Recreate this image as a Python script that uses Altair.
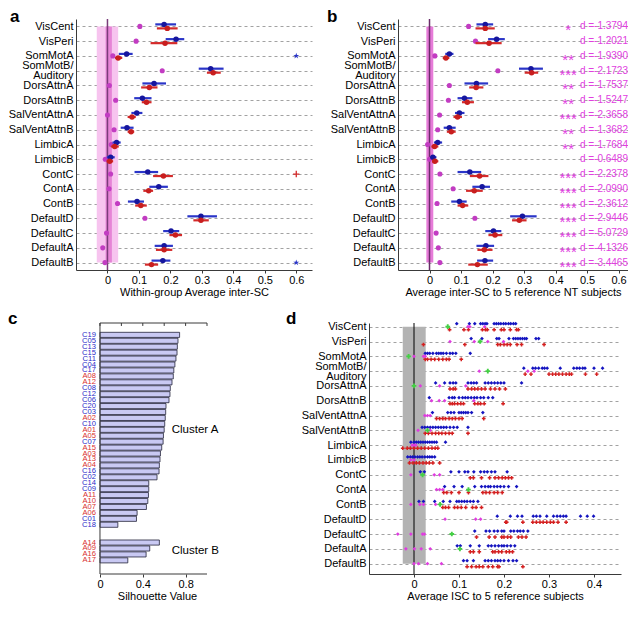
import altair as alt
import pandas as pd

FONT = "Liberation Sans"

ROWS = ["VisCent", "VisPeri", "SomMotA", "SomMotB/Auditory", "DorsAttnA", "DorsAttnB",
        "SalVentAttnA", "SalVentAttnB", "LimbicA", "LimbicB", "ContC", "ContA", "ContB",
        "DefaultD", "DefaultC", "DefaultA", "DefaultB"]

# ---- panel a ----
A_MAG = [0.103, 0.091, 0.017, 0.174, 0.006, 0.026, 0.0, 0.021, 0.012, -0.007, 0.01, 0.005, 0.032, 0.119, -0.003, -0.015, -0.008]
A_BLUE = [0.18, 0.218, 0.061, 0.328, 0.148, 0.111, 0.093, 0.062, 0.029, 0.01, 0.128, 0.163, 0.094, 0.297, 0.202, 0.18, 0.176]
A_BLUE_LO = [0.152, 0.185, 0.036, 0.29, 0.111, 0.085, 0.076, 0.042, 0.016, -0.002, 0.086, 0.133, 0.065, 0.254, 0.177, 0.15, 0.14]
A_BLUE_HI = [0.218, 0.244, 0.08, 0.369, 0.186, 0.14, 0.111, 0.083, 0.042, 0.023, 0.161, 0.192, 0.116, 0.348, 0.228, 0.208, 0.2]
A_RED = [0.19, 0.183, 0.034, 0.336, 0.133, 0.124, 0.078, 0.075, 0.023, 0.007, 0.178, 0.131, 0.106, 0.297, 0.216, 0.18, 0.14]
A_RED_LO = [0.157, 0.137, 0.024, 0.316, 0.107, 0.109, 0.064, 0.064, 0.011, -0.003, 0.145, 0.114, 0.088, 0.273, 0.197, 0.154, 0.119]
A_RED_HI = [0.223, 0.222, 0.047, 0.36, 0.159, 0.14, 0.09, 0.085, 0.036, 0.018, 0.208, 0.145, 0.125, 0.322, 0.237, 0.206, 0.161]
A_BLUE_OUT_ROWS = ["SomMotA", "DefaultB"]
A_RED_OUT_ROWS = ["ContC"]
A_OUT_VALUE = 0.6
A_NULL_WIDE = [-0.034, 0.034]
A_NULL_CORE = [-0.006, 0.014]

# ---- panel b ----
B_MAG = [0.124, 0.146, 0.017, 0.217, 0.063, 0.06, 0.032, 0.026, -0.006, 0.0, 0.033, 0.075, 0.024, 0.144, 0.021, 0.028, 0.033]
B_BLUE = [0.177, 0.213, 0.063, 0.322, 0.149, 0.111, 0.095, 0.063, 0.026, 0.011, 0.128, 0.167, 0.095, 0.295, 0.203, 0.179, 0.176]
B_BLUE_LO = [0.149, 0.186, 0.05, 0.284, 0.111, 0.089, 0.081, 0.045, 0.014, 0.002, 0.089, 0.136, 0.069, 0.256, 0.177, 0.149, 0.151]
B_BLUE_HI = [0.202, 0.239, 0.076, 0.36, 0.186, 0.136, 0.111, 0.083, 0.04, 0.022, 0.164, 0.192, 0.118, 0.34, 0.228, 0.205, 0.202]
B_RED = [0.177, 0.189, 0.052, 0.324, 0.148, 0.12, 0.089, 0.069, 0.016, 0.017, 0.159, 0.142, 0.105, 0.285, 0.208, 0.174, 0.152]
B_RED_LO = [0.146, 0.146, 0.042, 0.302, 0.126, 0.103, 0.076, 0.055, 0.006, 0.008, 0.128, 0.116, 0.089, 0.262, 0.187, 0.152, 0.123]
B_RED_HI = [0.207, 0.229, 0.063, 0.345, 0.171, 0.141, 0.103, 0.083, 0.028, 0.028, 0.187, 0.169, 0.123, 0.308, 0.231, 0.2, 0.185]
B_STARS = ["*", "", "**", "***", "**", "**", "***", "**", "**", "", "***", "***", "***", "***", "***", "***", "***"]
B_D = ["-1.3794", "-1.2021", "-1.9390", "-2.1723", "-1.7537", "-1.5247", "-2.3658", "-1.3682", "-1.7684",
       "-0.6489", "-2.2378", "-2.0990", "-2.3612", "-2.9446", "-5.0729", "-4.1326", "-3.4465"]
B_NULL = [-0.01, 0.012]

# ---- panel c ----
CA_LABELS = ["C19", "C05", "C13", "C15", "C11", "C04", "C17", "A08", "A12", "C08", "C12", "C06", "C20", "C03",
             "A02", "C10", "A01", "A05", "C07", "A15", "A03", "A13", "A04", "C16", "C02", "C14", "C09", "A11",
             "A10", "A07", "A06", "C01", "C18"]
CA_VALUES = [0.744, 0.729, 0.723, 0.72, 0.71, 0.70, 0.69, 0.685, 0.673, 0.657, 0.654, 0.645, 0.617, 0.614,
             0.61, 0.605, 0.60, 0.593, 0.59, 0.577, 0.565, 0.561, 0.555, 0.552, 0.533, 0.456, 0.456, 0.453,
             0.447, 0.434, 0.347, 0.341, 0.167]
CB_LABELS = ["A14", "A09", "A16", "A17"]
CB_VALUES = [0.555, 0.465, 0.431, 0.26]
C_TICKS = [0, 0.2, 0.4, 0.6, 0.8, 1.0]
C_LABELED_TICKS = [0, 0.4, 0.8]

# ---- panel d ----
D_BLUE = {
    "VisCent": [0.095, 0.123, 0.135, 0.148, 0.153, 0.158, 0.162, 0.178, 0.183, 0.188, 0.193, 0.199, 0.204, 0.21, 0.215, 0.221, 0.226],
    "VisPeri": [0.127, 0.151, 0.184, 0.189, 0.211, 0.221, 0.226, 0.231, 0.236, 0.241, 0.246, 0.25, 0.271, 0.277],
    "SomMotA": [0.025, 0.03, 0.035, 0.042, 0.05, 0.055, 0.06, 0.065, 0.072, 0.08, 0.086, 0.093, 0.125],
    "SomMotB/Auditory": [0.244, 0.264, 0.27, 0.277, 0.285, 0.29, 0.296, 0.325, 0.355, 0.362, 0.368, 0.375, 0.38, 0.4, 0.419],
    "DorsAttnA": [0.048, 0.068, 0.08, 0.087, 0.093, 0.12, 0.127, 0.133, 0.139, 0.158, 0.165, 0.172, 0.179, 0.186, 0.193, 0.2, 0.239],
    "DorsAttnB": [0.034, 0.078, 0.085, 0.09, 0.1, 0.108, 0.114, 0.12, 0.127, 0.134, 0.14, 0.148, 0.155, 0.165, 0.175],
    "SalVentAttnA": [0.041, 0.075, 0.082, 0.089, 0.1, 0.105, 0.11, 0.115, 0.12, 0.128, 0.153],
    "SalVentAttnB": [0.018, 0.024, 0.03, 0.036, 0.042, 0.048, 0.054, 0.06, 0.066, 0.072, 0.08, 0.088, 0.096, 0.12],
    "LimbicA": [-0.007, 0.0, 0.005, 0.01, 0.015, 0.02, 0.025, 0.03, 0.035, 0.04, 0.045, 0.05, 0.07],
    "LimbicB": [-0.014, -0.008, -0.003, 0.002, 0.008, 0.013, 0.018, 0.024, 0.03, 0.035, 0.04, 0.046],
    "ContC": [0.014, 0.023, 0.082, 0.1, 0.113, 0.12, 0.133, 0.148, 0.156, 0.163, 0.172, 0.18, 0.207],
    "ContA": [0.068, 0.089, 0.107, 0.135, 0.15, 0.158, 0.165, 0.17, 0.178, 0.185, 0.192, 0.2, 0.21, 0.228],
    "ContB": [0.011, 0.021, 0.046, 0.065, 0.08, 0.095, 0.1, 0.106, 0.112, 0.118, 0.125, 0.132, 0.142],
    "DefaultD": [0.185, 0.214, 0.23, 0.24, 0.265, 0.272, 0.28, 0.295, 0.31, 0.318, 0.325, 0.332, 0.338, 0.37, 0.385, 0.399],
    "DefaultC": [0.135, 0.16, 0.168, 0.178, 0.186, 0.195, 0.2, 0.215, 0.222, 0.23, 0.236, 0.243, 0.253],
    "DefaultA": [0.096, 0.103, 0.125, 0.145, 0.165, 0.172, 0.18, 0.188, 0.195, 0.2, 0.207, 0.215, 0.224],
    "DefaultB": [0.11, 0.118, 0.132, 0.158, 0.165, 0.172, 0.18, 0.186, 0.192, 0.2, 0.21, 0.22, 0.228],
}
D_RED = {
    "VisCent": [0.079, 0.111, 0.121, 0.152, 0.159, 0.163, 0.178, 0.194, 0.2, 0.214, 0.228, 0.232],
    "VisPeri": [0.021, 0.113, 0.186, 0.192, 0.2, 0.207, 0.214, 0.229, 0.239, 0.289],
    "SomMotA": [0.025, 0.03, 0.038, 0.046, 0.055, 0.064, 0.072, 0.078, 0.105],
    "SomMotB/Auditory": [0.247, 0.26, 0.3, 0.308, 0.315, 0.322, 0.33, 0.338, 0.345, 0.35, 0.381, 0.406],
    "DorsAttnA": [0.08, 0.087, 0.092, 0.12, 0.128, 0.135, 0.142, 0.15, 0.158, 0.17, 0.18, 0.19, 0.203],
    "DorsAttnB": [0.08, 0.085, 0.09, 0.097, 0.104, 0.11, 0.135, 0.142, 0.148, 0.156, 0.198],
    "SalVentAttnA": [0.05, 0.057, 0.064, 0.07, 0.078, 0.085, 0.092, 0.1, 0.107, 0.155],
    "SalVentAttnB": [0.025, 0.032, 0.04, 0.048, 0.055, 0.062, 0.07, 0.078, 0.085, 0.12],
    "LimbicA": [-0.025, -0.015, -0.008, 0.0, 0.008, 0.016, 0.024, 0.032, 0.04, 0.047, 0.053],
    "LimbicB": [-0.01, -0.002, 0.005, 0.012, 0.02, 0.027, 0.034, 0.042, 0.057],
    "ContC": [0.125, 0.132, 0.15, 0.168, 0.18, 0.188, 0.196, 0.203, 0.21, 0.217],
    "ContA": [0.066, 0.073, 0.083, 0.1, 0.121, 0.153, 0.16, 0.168, 0.178, 0.186, 0.196],
    "ContB": [0.064, 0.07, 0.077, 0.09, 0.097, 0.105, 0.115, 0.13, 0.138, 0.15],
    "DefaultD": [0.204, 0.206, 0.242, 0.264, 0.272, 0.28, 0.287, 0.295, 0.303, 0.31, 0.32, 0.338],
    "DefaultC": [0.139, 0.167, 0.18, 0.195, 0.2, 0.208, 0.215, 0.232, 0.24, 0.249],
    "DefaultA": [0.125, 0.132, 0.145, 0.175, 0.18, 0.188, 0.195, 0.205, 0.212, 0.219],
    "DefaultB": [0.118, 0.128, 0.138, 0.145, 0.153, 0.165, 0.175, 0.186, 0.189, 0.242],
}
D_MAG = {
    "VisCent": [0.12, 0.124, 0.157], "VisPeri": [0.08, 0.134, 0.164, 0.199],
    "SomMotA": [0.0, 0.021, 0.025], "SomMotB/Auditory": [0.145, 0.253, 0.267],
    "DorsAttnA": [0.014, 0.057, 0.115], "DorsAttnB": [0.039, 0.056, 0.068, 0.133],
    "SalVentAttnA": [0.024, 0.03, 0.036], "SalVentAttnB": [0.009, 0.036],
    "LimbicA": [-0.004, 0.0, 0.004], "LimbicB": [-0.007, 0.0],
    "ContC": [-0.007, 0.045, 0.057], "ContA": [0.05, 0.057, 0.064],
    "ContB": [-0.007, 0.013, 0.021, 0.048], "DefaultD": [0.069, 0.137, 0.148],
    "DefaultC": [-0.036, -0.007, 0.019, 0.023], "DefaultA": [-0.018, 0.001, 0.016, 0.036],
    "DefaultB": [0.0, 0.01, 0.03, 0.061],
}
D_GREEN = {
    "VisCent": [0.075], "VisPeri": [0.147], "SomMotA": [-0.012], "SomMotB/Auditory": [0.164],
    "DorsAttnA": [0.0], "SalVentAttnB": [0.03], "ContC": [0.019], "ContA": [0.121],
    "ContB": [0.058], "DefaultC": [0.084], "DefaultA": [0.102],
}
D_NULL = [-0.025, 0.026]

# ------------------------------------------------------------------
N = len(ROWS)
ROW_IDX = list(range(N))
TWO_LINE = [i for i, r in enumerate(ROWS) if "/" in r]


def _label(name):
    if "/" in name:
        first, second = name.split("/")
        return "['%s/','%s']" % (first, second)
    return "'%s'" % name


LABEL_EXPR = "[" + ",".join(_label(r) for r in ROWS) + "][datum.value]"
LABEL_OFFSET = {"condition": {"test": "indexof(%s, datum.value) >= 0" % str(TWO_LINE), "value": -5}, "value": 0}


def y_rows(field, domain):
    return alt.Y(field, type="quantitative",
                 scale=alt.Scale(domain=domain, reverse=True, nice=False, zero=False),
                 axis=alt.Axis(values=ROW_IDX, labelExpr=LABEL_EXPR, title=None, grid=True,
                               gridDash=[3, 3], gridColor="#8a8a8a", gridWidth=0.8, ticks=False,
                               labelFontSize=11, labelPadding=3, labelLineHeight=10,
                               labelBaseline="middle", labelOverlap=False, labelBound=False,
                               labelOffset=LABEL_OFFSET))


def x_q(field, domain, values, title, **kw):
    return alt.X(field, type="quantitative",
                 scale=alt.Scale(domain=domain, nice=False, zero=False),
                 axis=alt.Axis(values=values, format="~g", title=title, grid=False, tickSize=3,
                               labelFontSize=11, titleFontSize=11, titlePadding=1, labelPadding=1,
                               labelFlush=False, labelOverlap=False, **kw))


def letter(ch, dx, dy):
    return alt.Chart(pd.DataFrame({"t": [ch]})).mark_text(
        align="left", baseline="middle", fontSize=17, fontWeight="bold", font=FONT, color="black"
    ).encode(text="t:N", x=alt.value(dx), y=alt.value(dy))


BLUE_DOT = "#16169e"
BLUE_BAR = "#2a35c8"
RED_DOT = "#c81e1e"
RED_BAR = "#d42a2a"
MAG = "#c23cc2"
PINK = "#e040e0"


def summary_panel(mag, blue, blo, bhi, red, rlo, rhi, xdomain, xtitle, ch, chdx, bands, line_color):
    df = pd.DataFrame({"row": ROW_IDX, "mag": mag, "blue": blue, "blo": blo, "bhi": bhi,
                       "red": red, "rlo": rlo, "rhi": rhi})
    ticks = [0, 0.1, 0.2, 0.3, 0.4, 0.5, 0.6]
    X = lambda f: x_q(f, xdomain, ticks, xtitle)
    X2 = lambda f: alt.X2(f)
    Y = lambda f: y_rows(f, [-0.5, N - 0.5])
    layers = []
    for (lo, hi, color) in bands:
        bdf = pd.DataFrame({"lo": [lo], "hi": [hi], "r0": [0], "r1": [N - 1]})
        layers.append(alt.Chart(bdf).mark_rect(color=color).encode(
            x=X("lo"), x2=X2("hi"), y=Y("r0"), y2=alt.Y2("r1")))
    zdf = pd.DataFrame({"z": [0.0]})
    layers.append(alt.Chart(zdf).mark_rule(color=line_color, strokeWidth=1.5).encode(x=X("z")))
    base = alt.Chart(df)
    layers += [
        base.mark_circle(color=MAG, size=26, opacity=1).encode(x=X("mag"), y=Y("row")),
        base.mark_rule(color=BLUE_BAR, strokeWidth=2.2, yOffset=-2).encode(x=X("blo"), x2=X2("bhi"), y=Y("row")),
        base.mark_circle(color=BLUE_DOT, size=30, opacity=1, yOffset=-2).encode(x=X("blue"), y=Y("row")),
        base.mark_rule(color=RED_BAR, strokeWidth=2.2, yOffset=2).encode(x=X("rlo"), x2=X2("rhi"), y=Y("row")),
        base.mark_circle(color=RED_DOT, size=30, opacity=1, yOffset=2).encode(x=X("red"), y=Y("row")),
    ]
    layers.append(letter(ch, chdx, -2))
    return layers, X, Y


# panel a
a_layers, aX, aY = summary_panel(A_MAG, A_BLUE, A_BLUE_LO, A_BLUE_HI, A_RED, A_RED_LO, A_RED_HI,
                                 [-0.1, 0.65], "Within-group Average inter-SC", "a", -66,
                                 [(A_NULL_WIDE[0], A_NULL_WIDE[1], "#f7c4ef"),
                                  (A_NULL_CORE[0], A_NULL_CORE[1], "#e684d6")], "#7a3c7a")
STAR_PATH = "M0,-1L0.23,-0.31L0.95,-0.31L0.37,0.12L0.59,0.81L0,0.38L-0.59,0.81L-0.37,0.12L-0.95,-0.31L-0.23,-0.31Z"
PLUS_PATH = "M-1,0L1,0M0,-1L0,1"
out_blue = pd.DataFrame({"row": [ROWS.index(r) for r in A_BLUE_OUT_ROWS], "v": A_OUT_VALUE})
out_red = pd.DataFrame({"row": [ROWS.index(r) for r in A_RED_OUT_ROWS], "v": A_OUT_VALUE})
a_layers.append(alt.Chart(out_blue).mark_point(shape=STAR_PATH, filled=True, color=BLUE_BAR, size=40, opacity=1)
                .encode(x=aX("v"), y=aY("row")))
a_layers.append(alt.Chart(out_red).mark_point(shape=PLUS_PATH, filled=False, color=RED_BAR, size=40,
                                              strokeWidth=1.3, opacity=1)
                .encode(x=aX("v"), y=aY("row")))
panel_a = alt.layer(*a_layers).properties(width=236, height=251)

# panel b
b_layers, bX, bY = summary_panel(B_MAG, B_BLUE, B_BLUE_LO, B_BLUE_HI, B_RED, B_RED_LO, B_RED_HI,
                                 [-0.1, 0.63], "Average inter-SC to 5 reference NT subjects", "b", -71,
                                 [(B_NULL[0], B_NULL[1], "#e67bd8")], "#6a2c6a")
ann = pd.DataFrame({"row": ROW_IDX, "stars": B_STARS, "d": ["d =" + v for v in B_D],
                    "sx": 0.44, "dx": 0.63})
b_layers.append(alt.Chart(ann).mark_text(color=PINK, fontSize=15, font=FONT, align="center", baseline="middle", dy=4)
                .encode(x=bX("sx"), y=bY("row"), text="stars:N"))
b_layers.append(alt.Chart(ann).mark_text(color=PINK, fontSize=10, font=FONT, align="right", baseline="middle")
                .encode(x=bX("dx"), y=bY("row"), text="d:N"))
panel_b = alt.layer(*b_layers).properties(width=230, height=251)

# panel c
c_rows = []
for i, (lab, v) in enumerate(zip(CA_LABELS, CA_VALUES)):
    c_rows.append({"lab": lab, "v": v, "pos": i + 1, "grp": lab[0]})
for i, (lab, v) in enumerate(zip(CB_LABELS, CB_VALUES)):
    c_rows.append({"lab": lab, "v": v, "pos": len(CA_LABELS) + 3 + i, "grp": lab[0]})
cdf = pd.DataFrame(c_rows)
cdf["p0"] = cdf["pos"] - 0.43
cdf["p1"] = cdf["pos"] + 0.43
cdf["zero"] = 0.0
C_YDOM = [-1, 41.3]
C_XDOM = [-0.224, 1.0]
C_W = 131
cYscale = alt.Scale(domain=C_YDOM, reverse=True, nice=False, zero=False)
cY = lambda f: alt.Y(f, type="quantitative", scale=cYscale, axis=None)
cXscale = alt.Scale(domain=C_XDOM, nice=False, zero=False)
cX = lambda f: alt.X(f, type="quantitative", scale=cXscale,
                     axis=alt.Axis(values=C_LABELED_TICKS, format="~g", title="Silhouette Value", tickSize=3,
                                   grid=False, domain=False, labelFontSize=11, titleFontSize=11, titlePadding=1,
                                   labelPadding=1, labelFlush=False, titleX=81))
c_bars = alt.Chart(cdf).mark_rect(fill="#c9c9f3", stroke="#23233a", strokeWidth=0.8).encode(
    x=cX("zero"), x2="v:Q", y=cY("p0"), y2="p1:Q")
frame = pd.DataFrame({"x0": [C_TICKS[0]], "x1": [C_TICKS[-1]], "y0": [C_YDOM[0]], "y1": [C_YDOM[1]]})
c_top_line = alt.Chart(frame).mark_rule(color="#3a3a3a", strokeWidth=1).encode(x=cX("x0"), x2="x1:Q", y=cY("y0"))
c_bot_line = alt.Chart(frame).mark_rule(color="#3a3a3a", strokeWidth=1).encode(x=cX("x0"), x2="x1:Q", y=cY("y1"))
c_left_line = alt.Chart(frame).mark_rule(color="#3a3a3a", strokeWidth=1).encode(x=cX("x0"), y=cY("y0"), y2="y1:Q")
tick_df = pd.DataFrame({"t": C_TICKS, "y0": C_YDOM[0], "y1": C_YDOM[0] + 0.5})
c_top_ticks = alt.Chart(tick_df).mark_rule(color="#3a3a3a", strokeWidth=1).encode(
    x=cX("t"), y=cY("y0"), y2="y1:Q")
c_labels = alt.Chart(cdf).mark_text(align="right", baseline="middle", fontSize=7.6, font=FONT, dx=-4).encode(
    x=cX("zero"), y=cY("pos"), text="lab:N",
    color=alt.Color("grp:N", scale=alt.Scale(domain=["C", "A"], range=["#2a2ac8", "#d83030"]), legend=None))
CLUSTERS = pd.DataFrame({"name": ["Cluster A", "Cluster B"], "x": 0.67,
                         "pos": [(1 + len(CA_LABELS)) / 2, len(CA_LABELS) + 3 + (len(CB_LABELS) - 1) / 2]})
c_clusters = alt.Chart(CLUSTERS).mark_text(align="left", baseline="middle", fontSize=11.5, font=FONT, color="black").encode(
    x=cX("x"), y=cY("pos"), text="name:N")
panel_c = alt.layer(c_bars, c_top_line, c_bot_line, c_left_line, c_top_ticks, c_labels, c_clusters,
                    letter("c", -68, -4)).properties(width=C_W, height=251)

# panel d
D_YDOM = [-0.25, N - 0.3]
dY = lambda f: y_rows(f, D_YDOM)
dX = lambda f: x_q(f, [-0.1, 0.46], [0, 0.1, 0.2, 0.3, 0.4], "Average ISC to 5 reference subjects")


def long_df(dct):
    recs = []
    for r, vals in dct.items():
        for v in vals:
            recs.append({"row": ROWS.index(r), "v": v})
    return pd.DataFrame(recs)


d_band = pd.DataFrame({"lo": [D_NULL[0]], "hi": [D_NULL[1]], "r0": [0], "r1": [N - 1]})
d_layers = [
    alt.Chart(d_band).mark_rect(color="#b3b3b3").encode(x=dX("lo"), x2=alt.X2("hi"), y=dY("r0"), y2=alt.Y2("r1")),
    alt.Chart(pd.DataFrame({"z": [0.0]})).mark_rule(color="black", strokeWidth=1).encode(x=dX("z")),
    alt.Chart(long_df(D_RED)).mark_point(shape="cross", filled=True, color="#d42020", size=14, opacity=1, yOffset=3)
    .encode(x=dX("v"), y=dY("row")),
    alt.Chart(long_df(D_BLUE)).mark_point(shape="diamond", filled=True, color="#1414c0", size=14, opacity=1, yOffset=-3)
    .encode(x=dX("v"), y=dY("row")),
    alt.Chart(long_df(D_MAG)).mark_point(shape="diamond", filled=True, color="#e03ce0", size=14, opacity=1)
    .encode(x=dX("v"), y=dY("row")),
    alt.Chart(long_df(D_GREEN)).mark_point(shape="cross", filled=True, color="#44d044", size=22, opacity=1)
    .encode(x=dX("v"), y=dY("row")),
    letter("d", -83, -4),
]
panel_d = alt.layer(*d_layers).properties(width=252, height=251)

top = alt.hconcat(panel_a, panel_b, spacing=15)
bottom = alt.hconcat(panel_c, panel_d, spacing=67)
chart = alt.vconcat(top, bottom, spacing=13).properties(padding=0).configure_view(stroke=None).configure_axis(
    labelFont=FONT, titleFont=FONT, labelColor="black", titleColor="black", titleFontWeight="normal",
    domainColor="#3a3a3a", tickColor="#3a3a3a"
).configure_text(font=FONT)

chart.save("out.html", embed_options={"renderer": "svg", "actions": False})
